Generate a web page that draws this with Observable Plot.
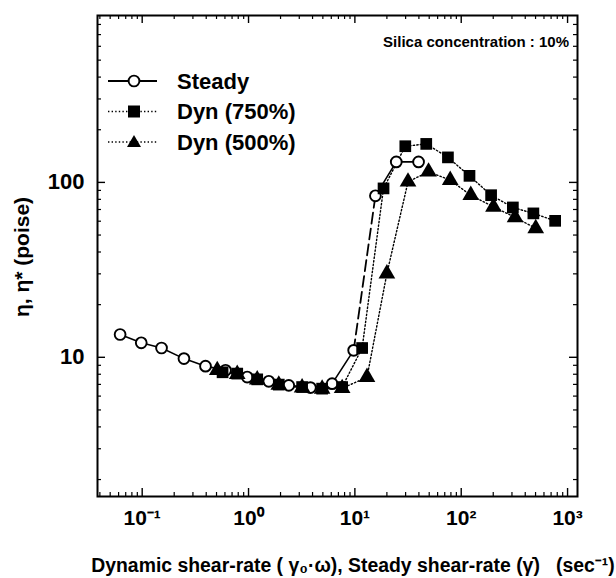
<!DOCTYPE html>
<html><head><meta charset="utf-8">
<script src="https://cdn.jsdelivr.net/npm/d3@7"></script>
<script src="https://cdn.jsdelivr.net/npm/@observablehq/plot@0.6"></script>
<style>body{margin:0;background:#fff}</style>
</head><body><div id="chart"></div>
<script>
// ---- data ----
const seriesNames = ["Steady", "Dyn (750%)", "Dyn (500%)"];
const steadyRate = [0.062, 0.098, 0.152, 0.247, 0.394, 0.608, 0.972, 1.55, 2.39, 3.82, 6.11, 9.74, 15.6, 24.5, 39.7];
const steadyVisc = [13.5, 12.1, 11.3, 9.83, 8.9, 8.43, 7.71, 7.29, 6.91, 6.71, 7.07, 10.96, 83.8, 131, 131];
const dyn750Rate = [0.57, 0.783, 1.207, 1.925, 3.19, 4.92, 7.59, 11.7, 18.6, 29.8, 46.9, 75.0, 119.6, 191, 306, 477, 764];
const dyn750Visc = [8.21, 8.07, 7.48, 6.98, 6.76, 6.62, 6.76, 11.3, 92.4, 161, 166, 139, 109, 84.5, 71.9, 66.5, 60.3];
const dyn500Rate = [0.508, 0.783, 1.207, 1.925, 3.19, 4.92, 7.59, 13.0, 20.0, 31.6, 49.3, 78.8, 123, 201, 321, 502];
const dyn500Visc = [8.43, 8.0, 7.45, 6.95, 6.7, 6.6, 6.65, 7.69, 30.1, 100.8, 115, 103, 84.5, 72.5, 63.1, 54.6];
const xMajor = [0.1, 1, 10, 100, 1000];
const xTickLabels = ["10\u207B\u00B9", "10\u2070", "10\u00B9", "10\u00B2", "10\u00B3"];
const yMajor = [10, 100];
const yTickLabels = ["10", "100"];
const xTitle = "Dynamic shear-rate ( \u03B3\u2080\u00B7\u03C9), Steady shear-rate (\u03B3\u0307)\u00A0\u00A0\u00A0(sec\u207B\u00B9)";
const yTitle = "\u03B7, \u03B7* (poise)";
const note = "Silica concentration : 10%";

// ---- build ----
const W = 616, H = 578, mL = 97, mR = 39, mT = 15, mB = 82;
const fw = W - mL - mR, fh = H - mT - mB;
const xDomain = [0.038, 1240], yDomain = [1.6, 900];
const toRows = (xs, ys) => xs.map((x, i) => ({x, y: ys[i]}));
const steady = toRows(steadyRate, steadyVisc);
const dyn750 = toRows(dyn750Rate, dyn750Visc);
const dyn500 = toRows(dyn500Rate, dyn500Visc);

function minorTicks([lo, hi]) {
  const out = [];
  for (let e = -3; e <= 4; e++) for (let k = 2; k <= 9; k++) {
    const v = k * Math.pow(10, e);
    if (v > lo && v < hi) out.push(v);
  }
  return out;
}
const xMinor = minorTicks(xDomain), yMinor = minorTicks(yDomain);
const font = "Liberation Sans, Arial, Helvetica, sans-serif";
const jumpStart = 11; // steady points joined by the long-dashed segment

const chart = Plot.plot({
  width: W, height: H,
  marginLeft: mL, marginRight: mR, marginTop: mT, marginBottom: mB,
  style: {fontFamily: font, background: "#fff", color: "#000"},
  x: {type: "log", domain: xDomain, axis: null},
  y: {type: "log", domain: yDomain, axis: null},
  marks: [
    // inward ticks, all four sides
    Plot.tickX(xMajor, {x: d => d, insetTop: fh - 8, stroke: "#000", strokeWidth: 1.4}),
    Plot.tickX(xMajor, {x: d => d, insetBottom: fh - 8, stroke: "#000", strokeWidth: 1.4}),
    Plot.tickX(xMinor, {x: d => d, insetTop: fh - 4, stroke: "#000", strokeWidth: 1.2}),
    Plot.tickX(xMinor, {x: d => d, insetBottom: fh - 4, stroke: "#000", strokeWidth: 1.2}),
    Plot.tickY(yMajor, {y: d => d, insetRight: fw - 8, stroke: "#000", strokeWidth: 1.4}),
    Plot.tickY(yMajor, {y: d => d, insetLeft: fw - 8, stroke: "#000", strokeWidth: 1.4}),
    Plot.tickY(yMinor, {y: d => d, insetRight: fw - 4, stroke: "#000", strokeWidth: 1.2}),
    Plot.tickY(yMinor, {y: d => d, insetLeft: fw - 4, stroke: "#000", strokeWidth: 1.2}),
    Plot.frame({stroke: "#000", strokeWidth: 2}),
    Plot.axisX(xMajor, {anchor: "bottom", tickSize: 0, tickPadding: 14, label: null,
      tickFormat: d => xTickLabels[xMajor.indexOf(d)], fontSize: 21, fontWeight: "bold"}),
    Plot.axisY(yMajor, {anchor: "left", tickSize: 0, tickPadding: 13, label: null,
      tickFormat: d => yTickLabels[yMajor.indexOf(d)], fontSize: 22, fontWeight: "bold"}),
    // Steady
    Plot.line(steady.slice(0, jumpStart + 1), {x: "x", y: "y", stroke: "#000", strokeWidth: 1.6}),
    Plot.line(steady.slice(jumpStart, jumpStart + 2), {x: "x", y: "y", stroke: "#000", strokeWidth: 1.8, strokeDasharray: "11,5"}),
    Plot.line(steady.slice(jumpStart + 1), {x: "x", y: "y", stroke: "#000", strokeWidth: 1.6}),
    // Dyn lines (dotted)
    Plot.line(dyn750, {x: "x", y: "y", stroke: "#000", strokeWidth: 1.4, strokeDasharray: "1.4,2.2"}),
    Plot.line(dyn500, {x: "x", y: "y", stroke: "#000", strokeWidth: 1.4, strokeDasharray: "1.4,2.2"}),
    Plot.dot(steady, {x: "x", y: "y", r: 5.4, fill: "#fff", stroke: "#000", strokeWidth: 1.9}),
    Plot.dot(dyn750, {x: "x", y: "y", symbol: "square", r: 6.6, fill: "#000", stroke: "none"}),
    Plot.dot(dyn500, {x: "x", y: "y", symbol: "triangle", r: 6.2, fill: "#000", stroke: "none"})
  ]
});
document.getElementById("chart").appendChild(chart);

// ---- titles, note, legend ----
const svg = d3.select(chart);
svg.append("text").attr("x", 353).attr("y", 572).attr("text-anchor", "middle")
  .attr("font-family", font).attr("font-weight", "bold").attr("font-size", 19.4).text(xTitle);
svg.append("text").attr("transform", "translate(29,257) rotate(-90)").attr("text-anchor", "middle")
  .attr("font-family", font).attr("font-weight", "bold").attr("font-size", 21).text(yTitle);
svg.append("text").attr("x", 569).attr("y", 47).attr("text-anchor", "end")
  .attr("font-family", font).attr("font-weight", "bold").attr("font-size", 15).text(note);

const lg = svg.append("g").attr("font-family", font).attr("text-anchor", "start");
seriesNames.forEach((name, i) => {
  const y = 81 + 30.5 * i;
  const line = lg.append("line").attr("x1", 108).attr("x2", 157).attr("y1", y).attr("y2", y)
    .attr("stroke", "#000").attr("stroke-width", i === 0 ? 1.8 : 1.4);
  if (i > 0) line.attr("stroke-dasharray", "1.4,2.2");
  if (i === 0) lg.append("circle").attr("cx", 134).attr("cy", y).attr("r", 5.4)
    .attr("fill", "#fff").attr("stroke", "#000").attr("stroke-width", 1.9);
  if (i === 1) lg.append("rect").attr("x", 128).attr("y", y - 6).attr("width", 12).attr("height", 12).attr("fill", "#000");
  if (i === 2) lg.append("path").attr("d", `M${134},${y - 7}L${141},${y + 5}L${127},${y + 5}Z`).attr("fill", "#000");
  lg.append("text").attr("x", 177).attr("y", y).attr("dy", "0.36em").attr("text-anchor", "start")
    .attr("font-weight", "bold").attr("font-size", 22).text(name);
});
</script>
</body></html>
